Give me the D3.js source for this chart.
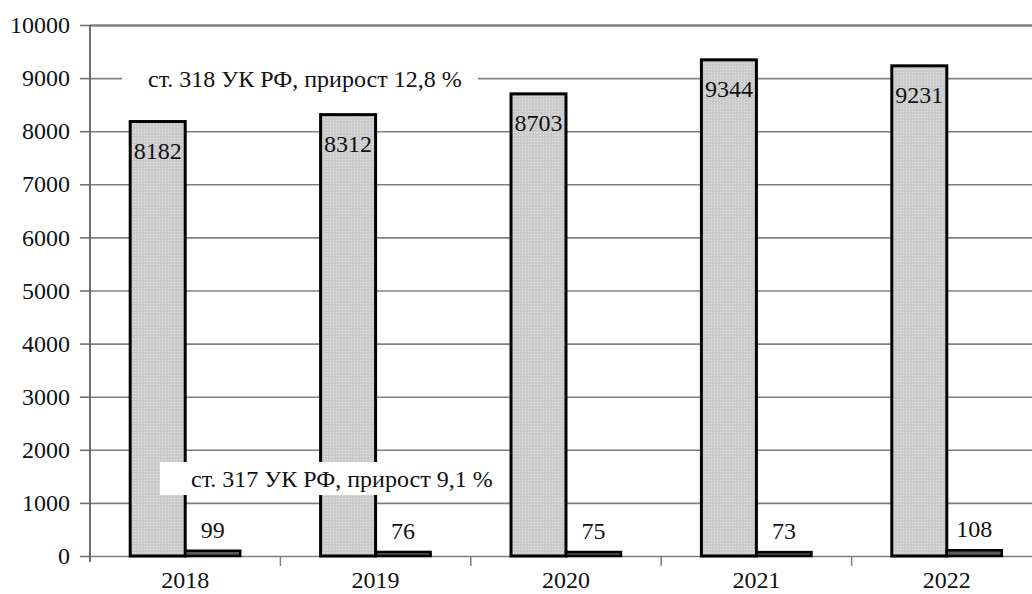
<!DOCTYPE html>
<html>
<head>
<meta charset="utf-8">
<script src="https://cdn.jsdelivr.net/npm/d3@7"></script>
<style>
  body { margin: 0; background: #fff; }
</style>
</head>
<body>
<svg id="chart" width="1032" height="594"></svg>
<script>
// data
const years = ["2018", "2019", "2020", "2021", "2022"];
const art318 = [8182, 8312, 8703, 9344, 9231];
const art317 = [99, 76, 75, 73, 108];
const yTicks = [0, 1000, 2000, 3000, 4000, 5000, 6000, 7000, 8000, 9000, 10000];
const note318 = "ст. 318 УК РФ, прирост 12,8 %";
const note317 = "ст. 317 УК РФ, прирост 9,1 %";

const width = 1032, height = 594;
const margin = { top: 25, right: -10, bottom: 38, left: 90 };
const FONT = "'Liberation Serif', 'Times New Roman', serif";
const FS = "24px";

const svg = d3.select("#chart");

// dotted texture for the big bars
const defs = svg.append("defs");
const pat = defs.append("pattern")
    .attr("id", "dots")
    .attr("width", 3).attr("height", 3)
    .attr("patternUnits", "userSpaceOnUse");
pat.append("rect").attr("width", 3).attr("height", 3).attr("fill", "#cbcbcb");
pat.append("rect").attr("width", 1).attr("height", 1).attr("fill", "#e4e4e4");

const x = d3.scaleBand()
    .domain(years)
    .range([margin.left, width - margin.right]);

const y = d3.scaleLinear()
    .domain([0, 10000])
    .range([height - margin.bottom, margin.top]);

const barW = 55;

// gridlines
svg.append("g")
    .attr("class", "grid")
    .attr("transform", `translate(${margin.left},0)`)
    .call(d3.axisLeft(y).tickValues(yTicks).tickSize(-(width - margin.left)).tickFormat(""))
    .call(g => g.select(".domain").remove())
    .selectAll("line")
    .attr("stroke", "#808080")
    .attr("stroke-width", d => d === 10000 ? 2.5 : 1.6);

// y axis
svg.append("g")
    .attr("transform", `translate(${margin.left},0)`)
    .call(d3.axisLeft(y).tickValues(yTicks).tickSize(10).tickPadding(10).tickFormat(d3.format("d")))
    .call(g => g.select(".domain").remove())
    .call(g => g.selectAll("line").attr("stroke", "#707070").attr("stroke-width", 1.6))
    .call(g => g.selectAll("text")
        .style("font-family", FONT)
        .style("font-size", FS)
        .attr("fill", "#111"));
svg.append("line")
    .attr("x1", margin.left).attr("x2", margin.left)
    .attr("y1", y(10000)).attr("y2", y(0) + 6)
    .attr("stroke", "#606060")
    .attr("stroke-width", 1.8);

// x axis
const xAxis = svg.append("g")
    .attr("transform", `translate(0,${y(0)})`);
xAxis.selectAll("line.sep")
    .data(years.slice(1))
    .join("line")
    .attr("class", "sep")
    .attr("x1", d => x(d)).attr("x2", d => x(d))
    .attr("y1", 0).attr("y2", 10)
    .attr("stroke", "#808080")
    .attr("stroke-width", 1.5);
xAxis.selectAll("text")
    .data(years)
    .join("text")
    .attr("x", d => x(d) + x.bandwidth() / 2)
    .attr("y", 32)
    .attr("text-anchor", "middle")
    .style("font-family", FONT)
    .style("font-size", FS)
    .attr("fill", "#111")
    .text(d => d);

// big bars (ст. 318)
svg.selectAll(".bar318")
    .data(years)
    .join("rect")
    .attr("class", "bar318")
    .attr("x", d => x(d) + x.bandwidth() / 2 - barW)
    .attr("y", (d, i) => y(art318[i]))
    .attr("width", barW)
    .attr("height", (d, i) => y(0) - y(art318[i]))
    .attr("fill", "url(#dots)")
    .attr("stroke", "#000")
    .attr("stroke-width", 3);

// small bars (ст. 317)
svg.selectAll(".bar317")
    .data(years)
    .join("rect")
    .attr("class", "bar317")
    .attr("x", d => x(d) + x.bandwidth() / 2)
    .attr("y", (d, i) => y(art317[i]))
    .attr("width", barW)
    .attr("height", (d, i) => y(0) - y(art317[i]))
    .attr("fill", "#5a5a5a")
    .attr("stroke", "#000")
    .attr("stroke-width", 2.5);

// labels
svg.selectAll(".lab318")
    .data(years)
    .join("text")
    .attr("class", "lab318")
    .attr("x", d => x(d) + x.bandwidth() / 2 - barW / 2)
    .attr("y", (d, i) => y(art318[i]) + 37)
    .attr("text-anchor", "middle")
    .style("font-family", FONT)
    .style("font-size", FS)
    .attr("fill", "#111")
    .text((d, i) => art318[i]);

svg.selectAll(".lab317")
    .data(years)
    .join("text")
    .attr("class", "lab317")
    .attr("x", d => x(d) + x.bandwidth() / 2 + barW / 2)
    .attr("y", (d, i) => y(art317[i]) - 13)
    .attr("text-anchor", "middle")
    .style("font-family", FONT)
    .style("font-size", FS)
    .attr("fill", "#111")
    .text((d, i) => art317[i]);

// notes on white boxes
function note(txt, bx, by, bw, bh, tx, ty) {
    svg.append("rect")
        .attr("x", bx).attr("y", by)
        .attr("width", bw).attr("height", bh)
        .attr("fill", "#fff");
    svg.append("text")
        .attr("x", tx).attr("y", ty)
        .style("font-family", FONT)
        .style("font-size", FS)
        .attr("fill", "#111")
        .text(txt);
}
note(note318, 122, 60, 356, 40, 148, 87);
note(note317, 160, 462, 342, 33, 191, 487);
</script>
</body>
</html>
